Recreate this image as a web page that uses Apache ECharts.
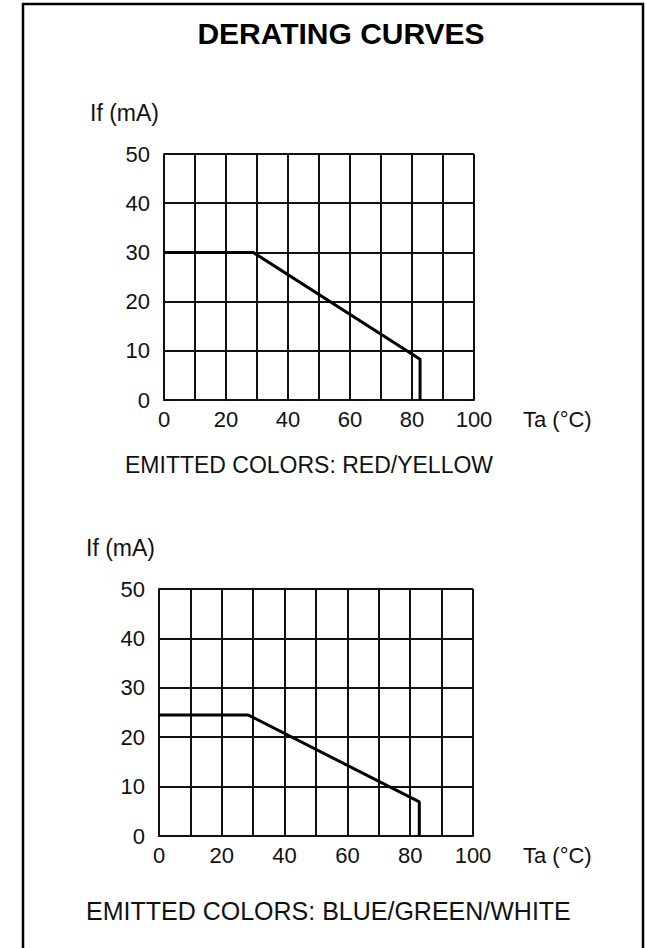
<!DOCTYPE html>
<html>
<head>
<meta charset="utf-8">
<script src="https://cdn.jsdelivr.net/npm/echarts@6/dist/echarts.min.js"></script>
<style>
html,body{margin:0;padding:0;background:#fff;}
#c{width:646px;height:948px;}
</style>
</head>
<body>
<div id="c"></div>
<script>
// Data
const xTicks = [0, 20, 40, 60, 80, 100];
const yTicks = [0, 10, 20, 30, 40, 50];
const redYellowCurve = [[0, 30], [28.8, 30], [82.6, 8.3], [82.6, 0]];
const blueGreenWhiteCurve = [[0, 24.5], [28.4, 24.5], [82.9, 6.9], [82.9, 0]];
const titleText = 'DERATING CURVES';
const yName = 'If (mA)';
const xName = 'Ta (°C)';
const caption1 = 'EMITTED COLORS: RED/YELLOW';
const caption2 = 'EMITTED COLORS: BLUE/GREEN/WHITE';

const FONT = '"Liberation Sans", Arial, sans-serif';
const ink = '#111';
const gridLine = { lineStyle: { color: '#111', width: 2 } };

function xAxis(idx) {
  return {
    type: 'value', gridIndex: idx, min: 0, max: 100, interval: 10,
    axisLine: { show: true, lineStyle: { color: '#111', width: 2 } },
    axisTick: { show: false },
    splitLine: Object.assign({ show: true }, gridLine),
    axisLabel: {
      color: ink, fontFamily: FONT, fontSize: 22, margin: 8,
      formatter: v => xTicks.indexOf(v) >= 0 ? String(v) : ''
    }
  };
}
function yAxis(idx) {
  return {
    type: 'value', gridIndex: idx, min: 0, max: 50, interval: 10,
    axisLine: { show: true, lineStyle: { color: '#111', width: 2 } },
    axisTick: { show: false },
    splitLine: Object.assign({ show: true }, gridLine),
    axisLabel: {
      color: ink, fontFamily: FONT, fontSize: 22, margin: 14,
      formatter: v => yTicks.indexOf(v) >= 0 ? String(v) : ''
    }
  };
}

const chart = echarts.init(document.getElementById('c'), null, { renderer: 'svg' });
chart.setOption({
  backgroundColor: '#fff',
  animation: false,
  grid: [
    { left: 164, top: 154, width: 310, height: 246 },
    { left: 159, top: 589, width: 314, height: 247 }
  ],
  xAxis: [xAxis(0), xAxis(1)],
  yAxis: [yAxis(0), yAxis(1)],
  series: [
    { type: 'line', xAxisIndex: 0, yAxisIndex: 0, data: redYellowCurve, showSymbol: false,
      lineStyle: { color: '#000', width: 3 }, z: 5 },
    { type: 'line', xAxisIndex: 1, yAxisIndex: 1, data: blueGreenWhiteCurve, showSymbol: false,
      lineStyle: { color: '#000', width: 3 }, z: 5 }
  ],
  graphic: [
    { type: 'rect', shape: { x: 23, y: 4, width: 620, height: 980 },
      style: { fill: 'none', stroke: '#000', lineWidth: 2.5 }, silent: true },
    { type: 'text', x: 341, y: 33, style: { text: titleText, font: 'bold 30px ' + FONT, fill: '#000', textAlign: 'center', textVerticalAlign: 'middle' } },
    { type: 'text', x: 90, y: 113, style: { text: yName, font: '23px ' + FONT, fill: ink, textAlign: 'left', textVerticalAlign: 'middle' } },
    { type: 'text', x: 523, y: 419, style: { text: xName, font: '22px ' + FONT, fill: ink, textAlign: 'left', textVerticalAlign: 'middle' } },
    { type: 'text', x: 125, y: 465, style: { text: caption1, font: '23px ' + FONT, fill: ink, textAlign: 'left', textVerticalAlign: 'middle' } },
    { type: 'text', x: 86, y: 548, style: { text: yName, font: '23px ' + FONT, fill: ink, textAlign: 'left', textVerticalAlign: 'middle' } },
    { type: 'text', x: 523, y: 855, style: { text: xName, font: '22px ' + FONT, fill: ink, textAlign: 'left', textVerticalAlign: 'middle' } },
    { type: 'text', x: 86, y: 911, style: { text: caption2, font: '25px ' + FONT, fill: ink, textAlign: 'left', textVerticalAlign: 'middle' } }
  ]
});
</script>
</body>
</html>
